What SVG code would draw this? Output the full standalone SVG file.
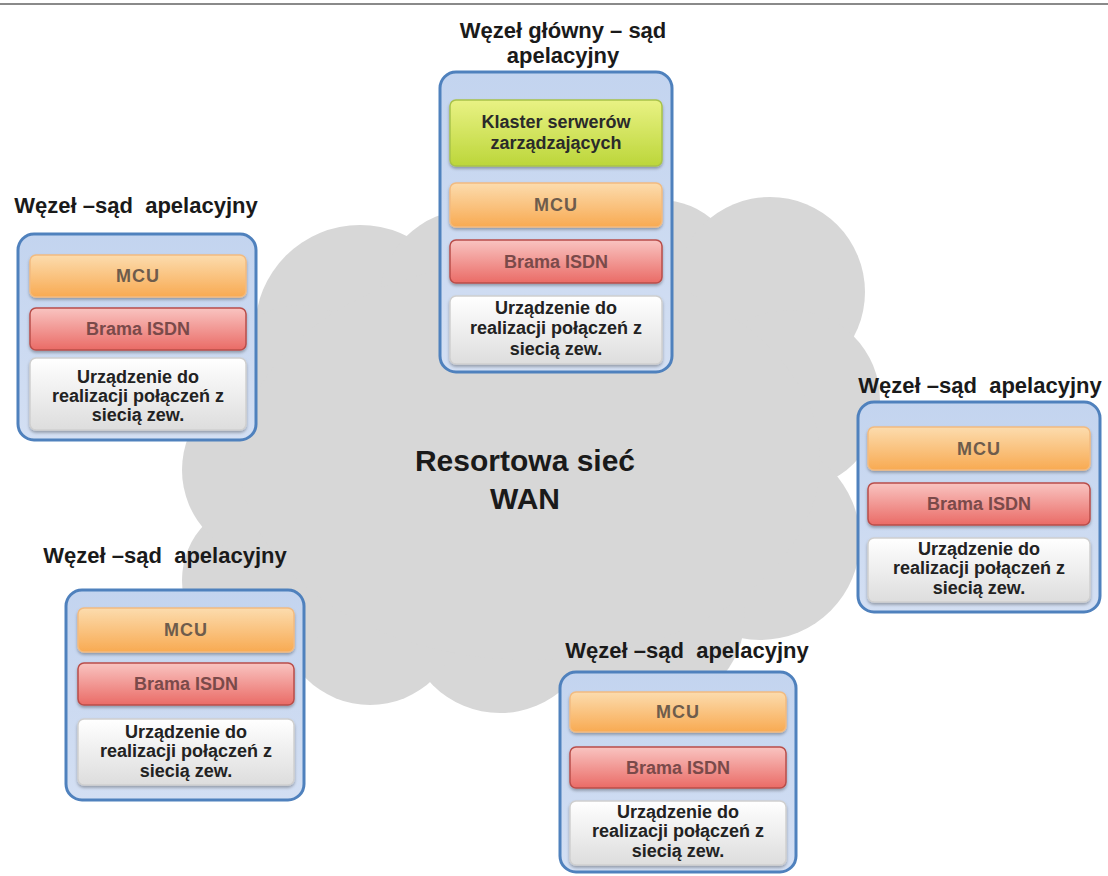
<svg xmlns="http://www.w3.org/2000/svg" width="1108" height="876" viewBox="0 0 1108 876">
<defs>
<style>
text{font-family:"Liberation Sans",Arial,sans-serif;font-weight:bold;text-anchor:middle}
.title{font-size:22px;fill:#1a1a1a;white-space:pre}
.wan{font-size:30px;fill:#1a1a1a}
.lbl{font-size:18px}
.mcu{fill:#6e5c4c;letter-spacing:1px}
.isdn{fill:#7a4a4a}
.urz{fill:#222}
.kl{fill:#2a2a2a}
.outer{fill:url(#gBlue);stroke:#4f81bd;stroke-width:3}
.green{fill:url(#gGreen);stroke:#a8c24a;stroke-width:1.5;filter:url(#sh)}
.orange{fill:url(#gOrange);stroke:#f2bb80;stroke-width:1.5;filter:url(#sh)}
.red{fill:url(#gRed);stroke:#b94d49;stroke-width:1.5;filter:url(#sh)}
.white{fill:url(#gWhite);stroke:#cfcfcf;stroke-width:1.5;filter:url(#sh)}
.cloud{fill:#d7d7d7}
</style>
<linearGradient id="gBlue" x1="0" y1="0" x2="0" y2="1"><stop offset="0" stop-color="#c3d4ef"/><stop offset="1" stop-color="#d3dff3"/></linearGradient>
<linearGradient id="gGreen" x1="0" y1="0" x2="0" y2="1"><stop offset="0" stop-color="#e9f284"/><stop offset="1" stop-color="#bcd63a"/></linearGradient>
<linearGradient id="gOrange" x1="0" y1="0" x2="0" y2="1"><stop offset="0" stop-color="#fcdcae"/><stop offset="1" stop-color="#f8aa52"/></linearGradient>
<linearGradient id="gRed" x1="0" y1="0" x2="0" y2="1"><stop offset="0" stop-color="#f9c4c1"/><stop offset="1" stop-color="#ea6b66"/></linearGradient>
<linearGradient id="gWhite" x1="0" y1="0" x2="0" y2="1"><stop offset="0" stop-color="#ffffff"/><stop offset="1" stop-color="#dddddd"/></linearGradient>
<filter id="sh" x="-10%" y="-10%" width="120%" height="130%"><feDropShadow dx="0" dy="2" stdDeviation="1.5" flood-color="#000" flood-opacity="0.3"/></filter>
</defs>
<rect width="1108" height="876" fill="#ffffff"/>
<line x1="0" y1="4" x2="1108" y2="4" stroke="#8a8a8a" stroke-width="2"/>

<g id="cloud" class="cloud">
<circle cx="360" cy="330" r="105"/>
<circle cx="470" cy="300" r="90"/>
<circle cx="560" cy="280" r="90"/>
<circle cx="660" cy="280" r="80"/>
<circle cx="770" cy="292" r="95"/>
<circle cx="790" cy="400" r="90"/>
<circle cx="760" cy="540" r="100"/>
<circle cx="650" cy="615" r="95"/>
<circle cx="500" cy="618" r="95"/>
<circle cx="370" cy="615" r="90"/>
<circle cx="262" cy="580" r="80"/>
<circle cx="272" cy="470" r="90"/>
<circle cx="300" cy="385" r="80"/>
<ellipse cx="530" cy="460" rx="290" ry="200"/>
<text x="525" y="471" class="wan">Resortowa sieć</text>
<text x="525" y="509" class="wan">WAN</text>
</g>

<g id="connectors"></g>

<g id="node-main">
<text x="563" y="38" class="title">Węzeł główny – sąd</text>
<text x="563" y="63" class="title">apelacyjny</text>
<rect x="440" y="72" width="232" height="300" rx="16" class="outer"/>
<rect x="450" y="100" width="212" height="66" rx="6" class="green"/>
<text x="556" y="128" class="lbl kl">Klaster serwerów</text>
<text x="556" y="149" class="lbl kl">zarządzających</text>
<rect x="450" y="183" width="212" height="44" rx="6" class="orange"/>
<text x="556" y="211" class="lbl mcu">MCU</text>
<rect x="450" y="240" width="212" height="43" rx="6" class="red"/>
<text x="556" y="268" class="lbl isdn">Brama ISDN</text>
<rect x="450" y="296" width="212" height="68" rx="6" class="white"/>
<text x="556" y="314" class="lbl urz">Urządzenie do</text>
<text x="556" y="334" class="lbl urz">realizacji połączeń z</text>
<text x="556" y="355" class="lbl urz">siecią zew.</text>
</g>

<g id="node-left">
<text x="136" y="213" class="title">Węzeł –sąd  apelacyjny</text>
<rect x="18" y="234" width="238" height="206" rx="16" class="outer"/>
<rect x="30" y="255" width="216" height="42" rx="6" class="orange"/>
<text x="138" y="282" class="lbl mcu">MCU</text>
<rect x="30" y="308" width="216" height="42" rx="6" class="red"/>
<text x="138" y="335" class="lbl isdn">Brama ISDN</text>
<rect x="30" y="358" width="216" height="72" rx="6" class="white"/>
<text x="138" y="383" class="lbl urz">Urządzenie do</text>
<text x="138" y="402" class="lbl urz">realizacji połączeń z</text>
<text x="138" y="421" class="lbl urz">siecią zew.</text>
</g>

<g id="node-right">
<text x="980" y="393" class="title">Węzeł –sąd  apelacyjny</text>
<rect x="858" y="402" width="242" height="210" rx="16" class="outer"/>
<rect x="868" y="427" width="222" height="43" rx="6" class="orange"/>
<text x="979" y="455" class="lbl mcu">MCU</text>
<rect x="868" y="483" width="222" height="42" rx="6" class="red"/>
<text x="979" y="510" class="lbl isdn">Brama ISDN</text>
<rect x="868" y="538" width="222" height="64" rx="6" class="white"/>
<text x="979" y="555" class="lbl urz">Urządzenie do</text>
<text x="979" y="574" class="lbl urz">realizacji połączeń z</text>
<text x="979" y="594" class="lbl urz">siecią zew.</text>
</g>

<g id="node-bottom-left">
<text x="165" y="563" class="title">Węzeł –sąd  apelacyjny</text>
<rect x="66" y="590" width="238" height="210" rx="16" class="outer"/>
<rect x="78" y="608" width="216" height="44" rx="6" class="orange"/>
<text x="186" y="636" class="lbl mcu">MCU</text>
<rect x="78" y="663" width="216" height="42" rx="6" class="red"/>
<text x="186" y="690" class="lbl isdn">Brama ISDN</text>
<rect x="78" y="719" width="216" height="66" rx="6" class="white"/>
<text x="186" y="738" class="lbl urz">Urządzenie do</text>
<text x="186" y="757" class="lbl urz">realizacji połączeń z</text>
<text x="186" y="777" class="lbl urz">siecią zew.</text>
</g>

<g id="node-bottom">
<text x="687" y="658" class="title">Węzeł –sąd  apelacyjny</text>
<rect x="560" y="672" width="236" height="200" rx="16" class="outer"/>
<rect x="570" y="692" width="216" height="40" rx="6" class="orange"/>
<text x="678" y="718" class="lbl mcu">MCU</text>
<rect x="570" y="747" width="216" height="41" rx="6" class="red"/>
<text x="678" y="774" class="lbl isdn">Brama ISDN</text>
<rect x="570" y="801" width="216" height="64" rx="6" class="white"/>
<text x="678" y="818" class="lbl urz">Urządzenie do</text>
<text x="678" y="837" class="lbl urz">realizacji połączeń z</text>
<text x="678" y="857" class="lbl urz">siecią zew.</text>
</g>
</svg>
